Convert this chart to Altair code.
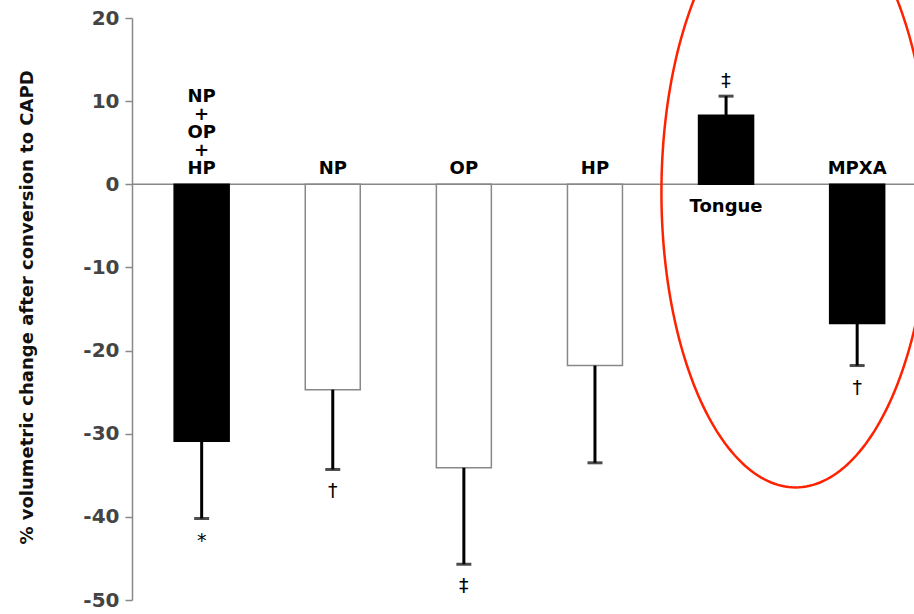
import altair as alt
import numpy as np
import pandas as pd

# ---- data ----
groups = ["NP+OP+HP", "NP", "OP", "HP", "Tongue", "MPXA"]
labels = ["NP\n+\nOP\n+\nHP", "NP", "OP", "HP", "Tongue", "MPXA"]
means = [-30.9, -24.7, -34.1, -21.8, 8.3, -16.75]
err_ends = [-40.2, -34.3, -45.7, -33.5, 10.6, -21.8]
kinds = ["filled", "open", "open", "open", "filled", "filled"]
markers = ["*", "†", "‡", "", "‡", "†"]

y_ticks = [-50, -40, -30, -20, -10, 0, 10, 20]

df = pd.DataFrame({
    "idx": list(range(len(groups))),
    "group": groups,
    "label": labels,
    "mean": means,
    "err": err_ends,
    "kind": kinds,
    "marker": markers,
})

# ellipse annotation (in data units: x = bar index, y = percent)
ell_cx, ell_rx, ell_cy, ell_ry = 4.53, 1.023, -0.96, 35.5
t = np.linspace(0, 2 * np.pi, 241)
ell = pd.DataFrame({"ex": ell_cx + ell_rx * np.cos(t),
                    "ey": ell_cy + ell_ry * np.sin(t),
                    "o": np.arange(len(t))})

FONT = "DejaVu Sans"
xs = alt.Scale(domain=[-0.4932, 5.3954], nice=False, zero=False)
ys = alt.Scale(domain=[-50, 20], nice=False, zero=False)

X = alt.X("idx:Q", scale=xs, axis=None)

base = alt.Chart(df).transform_calculate(
    nl="length(split(datum.label, '\\n')) - 1"
)

zero = alt.Chart(pd.DataFrame({"z": [0]})).mark_rule(color="#888", strokeWidth=1.5).encode(
    y=alt.Y("z:Q", scale=ys, axis=alt.Axis(
        values=y_ticks, title="% volumetric change after conversion to CAPD",
        labelExpr="replace(datum.label, '\u2212', '-')",
        grid=False, domainColor="#888", domainWidth=1.5, tickColor="#888", tickWidth=1.5,
        tickSize=7, labelPadding=6, labelFont=FONT, labelFontSize=20, labelColor="#444",
        labelFontWeight="bold",
        titleFont=FONT, titleFontSize=18, titleFontWeight="bold", titleColor="#111",
        titleAngle=-90, titleX=-105, titleY=289, titleAlign="center", titleBaseline="middle",
    ))
)

bars = base.mark_bar(size=55, orient="vertical", strokeWidth=1.5).encode(
    x=X,
    y=alt.Y("mean:Q", scale=ys),
    y2=alt.datum(0),
    fill=alt.Fill("kind:N", scale=alt.Scale(domain=["filled", "open"], range=["black", "white"]), legend=None),
    stroke=alt.Stroke("kind:N", scale=alt.Scale(domain=["filled", "open"], range=["black", "#888"]), legend=None),
)

err_rule = base.mark_rule(color="black", strokeWidth=3).encode(
    x=X, y=alt.Y("mean:Q", scale=ys), y2="err:Q"
)
caps = base.mark_tick(orient="horizontal", size=15, thickness=3, color="black").encode(
    x=X, y=alt.Y("err:Q", scale=ys)
)

lab_neg = base.transform_filter("datum.mean < 0 && datum.nl == 0").mark_text(
    font=FONT, fontSize=18, fontWeight="bold", baseline="bottom", dy=-6, color="black"
).encode(x=X, y=alt.datum(0), text="label:N")

lab_multi = base.transform_filter("datum.mean < 0 && datum.nl > 0").mark_text(
    font=FONT, fontSize=18, fontWeight="bold", baseline="bottom", dy=-6 - 4 * 18,
    lineBreak="\n", lineHeight=18, color="black"
).encode(x=X, y=alt.datum(0), text="label:N")

lab_pos = base.transform_filter("datum.mean > 0").mark_text(
    font=FONT, fontSize=18, fontWeight="bold", baseline="alphabetic", dy=28, color="black"
).encode(x=X, y=alt.datum(0), text="label:N")

mk_neg = base.transform_filter("datum.mean < 0").mark_text(
    font=FONT, fontSize=19, baseline="alphabetic", dy=28, color="black"
).encode(x=X, y=alt.Y("err:Q", scale=ys), text="marker:N")

mk_pos = base.transform_filter("datum.mean > 0").mark_text(
    font=FONT, fontSize=19, baseline="alphabetic", dy=-9, color="black"
).encode(x=X, y=alt.Y("err:Q", scale=ys), text="marker:N")

ellipse = alt.Chart(ell).mark_line(color="#ff2200", strokeWidth=2.5, clip=False).encode(
    x=alt.X("ex:Q", scale=xs, axis=None),
    y=alt.Y("ey:Q", scale=ys),
    order="o:Q",
)

chart = alt.layer(zero, bars, err_rule, caps, lab_neg, lab_multi, lab_pos, mk_neg, mk_pos, ellipse).properties(
    width=782, height=582,
    background="white",
    autosize=alt.AutoSizeParams(type="none"),
    padding={"left": 132, "top": 18, "right": 0, "bottom": 14},
).configure_view(strokeWidth=0)

chart.save("out.html", embed_options={"renderer": "svg", "actions": False})
